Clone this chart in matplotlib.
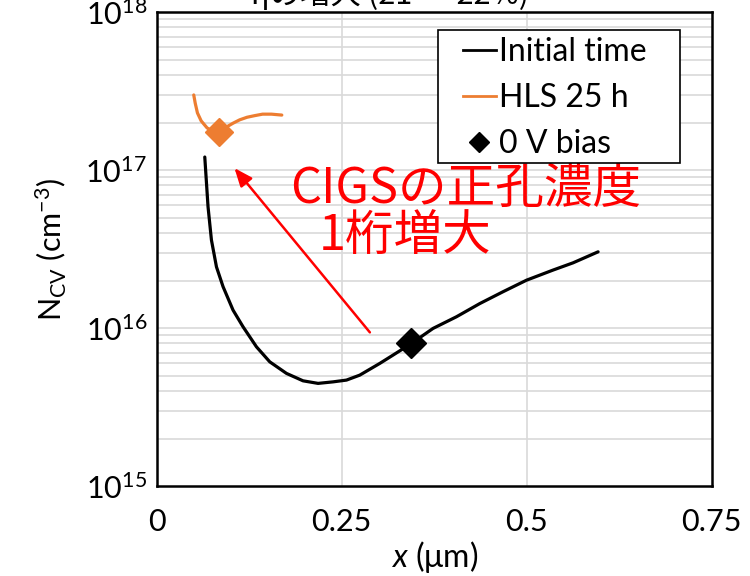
import matplotlib
matplotlib.use("Agg")
import matplotlib.pyplot as plt
from matplotlib.lines import Line2D
from matplotlib.patches import Rectangle

# Depth profiles of C-V carrier density
x_initial = [0.0649, 0.0693, 0.0739, 0.0807, 0.0896, 0.1031, 0.1166, 0.1347, 0.1527,
             0.1753, 0.1977, 0.2180, 0.2382, 0.2564, 0.2743, 0.3014, 0.3193, 0.3442,
             0.3734, 0.4050, 0.4365, 0.4680, 0.4996, 0.5355, 0.5626, 0.5964]
n_initial = [1.21e17, 5.86e16, 3.61e16, 2.44e16, 1.83e16, 1.30e16, 1.02e16, 7.62e15,
             6.12e15, 5.17e15, 4.64e15, 4.47e15, 4.57e15, 4.69e15, 5.04e15, 5.98e15,
             6.75e15, 8.0e15, 9.96e15, 1.18e16, 1.43e16, 1.70e16, 2.01e16, 2.33e16,
             2.59e16, 3.04e16]

x_hls = [0.050, 0.052, 0.055, 0.060, 0.068, 0.076, 0.084, 0.093, 0.103, 0.112,
         0.122, 0.132, 0.143, 0.155, 0.169]
n_hls = [2.99e17, 2.65e17, 2.30e17, 2.05e17, 1.85e17, 1.76e17, 1.74e17, 1.86e17,
         1.98e17, 2.08e17, 2.16e17, 2.21e17, 2.26e17, 2.26e17, 2.23e17]

# Operating point at 0 V bias
x_bias = [0.344, 0.084]
n_bias = [8.0e15, 1.74e17]

# Arrow from initial to post-HLS level
arrow_from = (0.288, 9.4e15)
arrow_to = (0.105, 1.03e17)

x_ticks = [0, 0.25, 0.5, 0.75]
x_tick_labels = ["0", "0.25", "0.5", "0.75"]
y_ticks = [1e15, 1e16, 1e17, 1e18]
y_tick_labels = [r"10$^{\mathregular{15}}$", r"10$^{\mathregular{16}}$",
                 r"10$^{\mathregular{17}}$", r"10$^{\mathregular{18}}$"]
legend_labels = ["Initial time", "HLS 25 h", "0 V bias"]

ORANGE = "#ED7D31"
RED = "#FF0000"
GRID = "#d9d9d9"
CJK = ["Noto Sans CJK JP", "DejaVu Sans"]

plt.rcParams["font.family"] = ["Lato", "Noto Sans CJK JP", "DejaVu Sans"]
plt.rcParams["mathtext.fontset"] = "custom"
plt.rcParams["mathtext.rm"] = "Lato"
plt.rcParams["mathtext.it"] = "Lato:italic"

fig = plt.figure(figsize=(7.5, 5.76), dpi=100)
ax = fig.add_axes([0.209, 0.156, 0.740, 0.823])

ax.set_yscale("log")
ax.set_xlim(0, 0.75)
ax.set_ylim(1e15, 1e18)

# light grid: minor decades horizontally, quarter steps vertically
for dec in [1e15, 1e16, 1e17]:
    for m in range(2, 10):
        ax.axhline(dec * m, color=GRID, lw=1.2, zorder=0)
for d in [1e16, 1e17]:
    ax.axhline(d, color=GRID, lw=1.2, zorder=0)
for xv in [0.25, 0.5]:
    ax.axvline(xv, color=GRID, lw=1.2, zorder=0)

ax.plot(x_initial, n_initial, color="black", lw=2.3, zorder=3,
        solid_joinstyle="round", solid_capstyle="round")
ax.plot(x_hls, n_hls, color=ORANGE, lw=2.3, zorder=3,
        solid_joinstyle="round", solid_capstyle="round")
ax.plot(x_bias[0], n_bias[0], marker="D", color="black", ms=15, ls="none", zorder=4)
ax.plot(x_bias[1], n_bias[1], marker="D", color=ORANGE, ms=14, ls="none", zorder=4)

ax.annotate("", xy=arrow_to, xytext=arrow_from,
            arrowprops=dict(arrowstyle="-|>,head_length=1.1,head_width=0.45",
                            color=RED, lw=1.8, shrinkA=0, shrinkB=0), zorder=5)

ax.text(0.557, 0.627, "CIGSの正孔濃度", color=RED, fontsize=35, family=CJK,
        ha="center", va="center", transform=ax.transAxes, zorder=6)
ax.text(0.447, 0.527, "1桁増大", color=RED, fontsize=35, family=CJK,
        ha="center", va="center", transform=ax.transAxes, zorder=6)

ax.set_xticks(x_ticks)
ax.set_xticklabels(x_tick_labels)
ax.set_yticks(y_ticks)
ax.set_yticklabels(y_tick_labels)
ax.yaxis.set_minor_locator(matplotlib.ticker.NullLocator())
ax.tick_params(axis="both", length=0, labelsize=22)
ax.tick_params(axis="y", pad=7)
ax.tick_params(axis="x", pad=16)

for s in ax.spines.values():
    s.set_linewidth(1.8)
    s.set_color("black")

ax.set_xlabel(r"$\mathit{x}$ ($\mathregular{\mu}$m)", fontsize=23, labelpad=2)
ax.set_ylabel(r"N$_{\mathregular{CV}}$ (cm$^{\mathregular{-3}}$)", fontsize=22, labelpad=12)

# legend entries with a separately drawn square frame
handles = [Line2D([], [], color="black", lw=2),
           Line2D([], [], color=ORANGE, lw=2),
           Line2D([], [], color="black", marker="D", ls="none", ms=10)]
leg = ax.legend(handles, legend_labels,
                loc="upper left", bbox_to_anchor=(0.551, 0.947), borderaxespad=0,
                fontsize=23, frameon=False, borderpad=0,
                handlelength=1.05, handletextpad=0.1, labelspacing=0.5)
leg.set_zorder(7)
ax.add_patch(Rectangle((0.506, 0.681), 0.436, 0.281, transform=ax.transAxes,
                       facecolor="white", edgecolor="black", lw=1.2, zorder=6))

# heading line, mostly above the top edge of the figure
fig.text(0.52, 0.993, "ηの増大 (21 → 22%)", fontsize=22, ha="center", va="baseline",
         family=CJK)

fig.savefig("out.png", dpi=100)
